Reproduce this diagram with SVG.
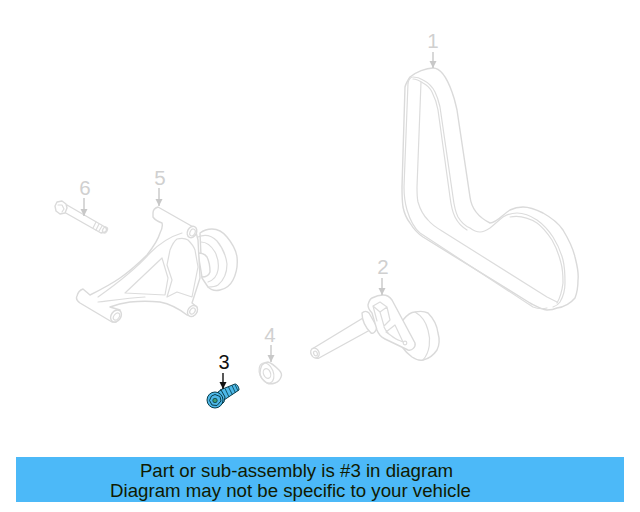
<svg xmlns="http://www.w3.org/2000/svg" width="640" height="512" viewBox="0 0 640 512">
<defs>
<marker id="ag" markerWidth="8" markerHeight="8" refX="7" refY="4" orient="auto" markerUnits="userSpaceOnUse"><path d="M0 0.5L7 4L0 7.5Z" fill="#c8c8c8"/></marker>
<marker id="ak" markerWidth="8" markerHeight="8" refX="7" refY="4" orient="auto" markerUnits="userSpaceOnUse"><path d="M0 0.5L7 4L0 7.5Z" fill="#111"/></marker>
</defs>
<style>
.p{fill:#fff;stroke:#dadada;stroke-width:1.4;stroke-linejoin:round;stroke-linecap:round}
.n{fill:none;stroke:#dcdcdc;stroke-width:1.2;stroke-linecap:round;stroke-linejoin:round}
.l{font-family:"Liberation Sans",Arial,sans-serif;font-size:20.5px;fill:#d0d0d0;text-anchor:middle}
.c{fill:none;stroke:#c8c8c8;stroke-width:1.4;marker-end:url(#ag)}
.b{font-family:"Liberation Sans",Arial,sans-serif;font-size:18.67px;fill:#111a00;text-anchor:middle}
.bo{fill:#4db8e8;stroke:#0b3d4a;stroke-width:1;stroke-linejoin:round}
.th{fill:none;stroke:#0b4a5a;stroke-width:.9}
</style>
<g id="part-1">
<path class="p" d="M410 77C416 72 426 68 433 68C441 68 447 78 452 92C455 100 456 106 457 110L470 197C471 205 476 216 490 223C497 223 503 214 510 210C516 207 520 207 523 207C530 207 537 210 543 213C552 218 559 224 563 230C569 240 573 248 575 257C577 265 579 272 578 280C578 288 577 293 575 298C570 304 564 307 557 308C553 310 550 310 547 310C541 309 536 306 530 303L423 237C417 233 413 228 410 223C406 218 404 212 403 207C402 200 402 195 402 187L405 87C406 83 408 80 410 77Z"/>
<path class="n" d="M408 83C409 79 411 77 413 77C417 77 420 78 423 80C429 83 433 88 435 92C438 98 439 103 440 107L453 197C454 205 455 211 458 217C461 222 465 226 470 228C474 231 477 232 480 232C484 232 487 230 490 228C495 224 499 220 503 217C508 214 512 213 517 213C524 213 531 216 537 220C544 225 549 231 553 237C558 245 561 252 563 260C565 268 565 276 565 283C565 290 563 297 560 302C558 305 556 306 553 307"/>
<path class="n" d="M413 79C417 79 420 81 423 83C427 85 430 88 432 92C435 98 437 104 438 110L450 197C451 205 452 211 455 217C458 223 462 227 467 230M510 217C520 215 529 218 537 223C544 228 548 234 552 240C556 247 559 255 561 263C563 270 563 277 563 283C562 291 560 298 557 303"/>
<path class="n" d="M408 83L404 187C404 196 405 203 407 210C410 220 414 228 420 233L533 307C538 309 543 309 547 308"/>
<path class="n" d="M421 82L417 187C417 193 417 198 418 202C420 209 424 216 428 220C432 225 437 228 442 231L547 297L557 302"/>
</g>
<g id="part-2">
<path class="p" d="M403 320C407 315 411 312 415 312C420 311 424 311 428 313C433 318 437 325 438 333C440 340 439 346 437 350C433 356 428 359 423 360C419 361 415 359 412 357C408 354 405 351 403 348Z"/>
<path class="n" d="M415 312C422 316 426 322 428 330C431 340 430 352 423 360"/>
<path class="p" d="M312 349L363 318L370 330L319 358C316 359 313 356 311 353C311 351 311 350 312 349Z"/>
<ellipse class="p" cx="315" cy="353" rx="4" ry="5" transform="rotate(-25 315 353)"/>
<ellipse class="n" cx="315.500" cy="353.500" rx="1.800" ry="2.500" transform="rotate(-25 315.500 353.500)"/>
<path class="p" d="M362 313C364 311 367 311 369 313L377 327C376 332 373 334 371 333C366 328 362 320 362 313Z"/>
<path class="p" d="M368 305C369 301 370 299 372 298C376 296 380 295 383 295C387 295 390 297 392 300L415 343C416 347 412 351 408 350L385 339C381 337 378 333 377 330L372 313C370 311 368 308 368 305Z"/>
<path class="n" d="M373 306L380 302L387 307L380 312ZM380 312L384 326M387 307L390 320L384 326M373 306L377 321"/>
<path class="n" d="M386 332L395 325L403 342L396 339ZM384 327C386 332 392 337 398 340"/>
<circle class="n" cx="405" cy="343" r="1.800"/>
</g>
<g id="part-3">
<path class="bo" d="M220 390L235 384C237 384 239 387 239 390L224 400Z"/>
<path class="th" d="M225 388.500L229 397M228.500 387L232.500 395M232 385.500L235.500 393M235 384.500L238 391"/>
<path class="bo" d="M218 392L221 390L225 397L224 402L220 406Z"/>
<circle class="bo" cx="215" cy="400" r="8"/>
<path class="bo" d="M215 394.500L220 396.500L221 401L217 405.500L212 405L209.500 400.500L211.500 396Z" fill="#5cc4ea"/>
<circle cx="215" cy="400.500" r="2.200" fill="#3f9c70" stroke="#0b3d4a" stroke-width=".8"/>
</g>
<g id="part-4">
<path class="p" d="M262 365C264 363 266 362 268 362C272 363 276 367 279 370C281 372 282 375 281 377C280 380 278 382 275 383C272 384 269 384 267 383C264 381 260 378 260 373C260 370 261 367 262 365Z"/>
<ellipse class="n" cx="266.500" cy="373" rx="6.800" ry="10.500" transform="rotate(-22 266.500 373)"/>
<ellipse class="n" cx="267" cy="373.500" rx="3.500" ry="5" transform="rotate(-22 267 373.500)"/>
</g>
<g id="part-5">
<path class="p" d="M200 233C204 230 208 229 212 229C218 229 223 232 227 237C232 243 236 250 237 257C238 266 236 274 233 280C230 286 225 289 220 290C216 291 211 290 208 287L202 278Z"/>
<path class="n" d="M198 237C205 234 212 236 217 241C222 247 226 256 227 264C227 272 224 280 218 285C215 287 211 287 208 287"/>
<path class="n" d="M201 242C208 242 212 247 215 252C218 258 219 264 218 270C217 276 214 280 208 282"/>
<path class="p" d="M198 253C202 253 205 254 207 257C209 261 210 267 210 272C209 275 206 277 202 277Z"/>
<path class="p" d="M153 213C153 210 155 208 158 207L195 228L198 240L200 278L192 303L197 307C198 310 196 315 193 316L187 315C178 308 170 304 160 302C150 301 140 301 130 302C122 303 115 305 110 307L120 310L116 322L112 322L80 303C77 301 76 298 77 296C78 292 80 290 83 289L90 295C100 290 110 285 120 278C130 271 140 262 147 255C154 246 158 240 160 233C162 229 163 226 162 223C159 222 155 220 153 217Z"/>
<ellipse class="p" cx="192" cy="232" rx="4.500" ry="6" transform="rotate(25 192 232)"/>
<ellipse class="n" cx="192.500" cy="232.500" rx="2.500" ry="3.600" transform="rotate(25 192.500 232.500)"/>
<ellipse class="p" cx="116" cy="316" rx="4.800" ry="6.500" transform="rotate(35 116 316)"/>
<ellipse class="n" cx="116.500" cy="316.500" rx="2.600" ry="4" transform="rotate(35 116.500 316.500)"/>
<ellipse class="p" cx="192.500" cy="311" rx="4.500" ry="6" transform="rotate(35 192.500 311)"/>
<ellipse class="n" cx="192.500" cy="311" rx="2.400" ry="3.400" transform="rotate(35 192.500 311)"/>
<path class="n" d="M170 250C172 245 174 241 177 239C181 238 185 238 188 240C191 243 194 247 195 250L198 267L192 297L177 292L167 297L172 280L167 265Z"/>
<path class="n" d="M125 293L162 258L168 278L165 295Z"/>
<path class="n" d="M98 297C115 285 135 270 150 253C160 243 172 236 182 233"/>
<path class="n" d="M98 302C115 300 130 298 145 297"/>
</g>
<g id="part-6">
<path class="p" d="M67 205L105 227C107 228 107 231 105 232L101 233L64 212Z"/>
<ellipse class="n" cx="105" cy="230" rx="2.200" ry="3.200" transform="rotate(30 105 230)"/>
<path class="n" d="M96 222L93 228M99 224L96 230M102 226L99 231"/>
<path class="p" d="M57 202L62 201L66 204L67 208L65 213L60 214L56 211L55 206Z"/>
<path class="n" d="M58 205L62 205L64 209L62 212"/>
</g>
<g id="connectors">
<path class="c" d="M433 52V68"/>
<path class="c" d="M382 278V295"/>
<path class="c" d="M271 345V362"/>
<path class="c" d="M159 188V206"/>
<path class="c" d="M84 198V216"/>
<path d="M223 373V389" fill="none" stroke="#111" stroke-width="1.400" marker-end="url(#ak)"/>
</g>
<g id="labels">
<text class="l" x="433" y="48">1</text>
<text class="l" x="383" y="274">2</text>
<text class="l" x="270" y="342">4</text>
<text class="l" x="160" y="185">5</text>
<text class="l" x="85" y="195">6</text>
<text x="224" y="369" font-family="'Liberation Sans',Arial,sans-serif" font-size="20" fill="#111" text-anchor="middle">3</text>
</g>
<g id="banner">
<rect x="16" y="457" width="608" height="45" fill="#4cb9f8"/>
<text class="b" x="296.500" y="477">Part or sub-assembly is #3 in diagram</text>
<text class="b" x="290.500" y="497">Diagram may not be specific to your vehicle</text>
</g>
</svg>
